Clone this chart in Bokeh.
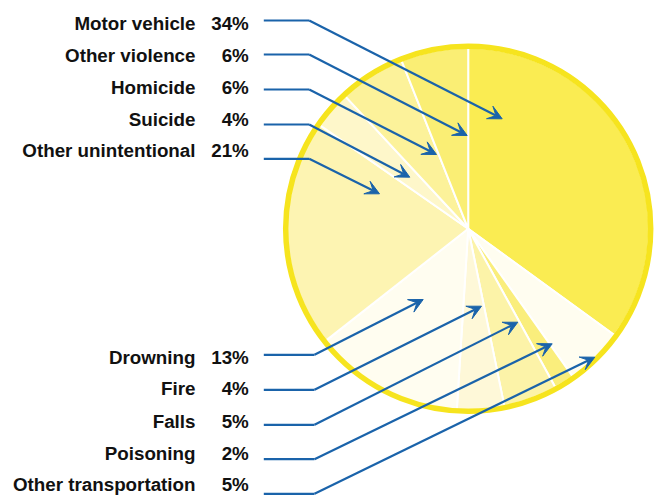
import math
from bokeh.plotting import figure
from bokeh.models import ColumnDataSource, Range1d, Arrow, VeeHead
from bokeh.core.properties import value
from bokeh.embed import file_html
from bokeh.resources import INLINE

# ---- data (pie order: clockwise from 12 o'clock) ----
categories = ["Motor vehicle", "Other transportation", "Poisoning", "Falls", "Fire",
              "Drowning", "Other unintentional", "Suicide", "Homicide", "Other violence"]
shares = [35.0, 5.2, 1.8, 4.8, 4.2, 13.4, 20.3, 3.4, 5.9, 6.0]
pct_labels = ["34%", "5%", "2%", "5%", "4%", "13%", "21%", "4%", "6%", "6%"]

# label list order (top group, then bottom group)
top_labels = ["Motor vehicle", "Other violence", "Homicide", "Suicide", "Other unintentional"]
bottom_labels = ["Drowning", "Fire", "Falls", "Poisoning", "Other transportation"]

# ---- styles / layout (image pixel coords, y down) ----
colors = {"Motor vehicle": "#FAEC52", "Other transportation": "#FFFDF0", "Poisoning": "#FAEE7C",
          "Falls": "#FCF3A8", "Fire": "#FEF8D8", "Drowning": "#FFFDF0",
          "Other unintentional": "#FDF4B2", "Suicide": "#FEF7CA", "Homicide": "#FCF29A",
          "Other violence": "#FAEE74"}
BLUE = "#1A63AA"
W, H = 654, 498


def Y(img_y):
    return H - img_y


cx, cy = 467.7, Y(228.3)
R = 181

TEXT_SHIFT = -7.5
top_line_y = [20, 54, 89, 124, 158.3]
top_text_y = [30, 62.5, 94, 126, 157.5]
top_tips = [(501.7, 118.3), (466.7, 135), (436, 154), (409.3, 176.7), (379, 193.3)]
top_bend_x = 308.7

bot_line_y = [354.3, 389.3, 424.3, 458.7, 493.3]
bot_text_y = [364.3, 395.7, 428.3, 460, 491.7]
bot_tips = [(422.7, 299), (481, 305.7), (517.3, 321.7), (551.7, 343.3), (594.3, 356.7)]
bot_bend_x = 314
line_start_x = 263.3
name_x = 195
pct_x = 248.3

p = figure(width=W, height=H, output_backend="svg", toolbar_location=None,
           x_range=Range1d(0, W), y_range=Range1d(0, H), min_border=0)
p.axis.visible = False
p.grid.visible = False
p.outline_line_color = None
p.background_fill_color = "white"
p.border_fill_color = "white"

# ---- pie ----
starts, ends = [], []
cum = 0.0
total = sum(shares)
for s in shares:
    starts.append(math.pi / 2 - 2 * math.pi * cum / total)
    cum += s
    ends.append(math.pi / 2 - 2 * math.pi * cum / total)

src = ColumnDataSource(dict(cat=categories, start=starts, end=ends,
                            color=[colors[c] for c in categories]))
p.wedge(x=cx, y=cy, radius=R, start_angle="start", end_angle="end", direction="clock",
        fill_color="color", line_color="white", line_width=2, source=src)
p.circle(x=[cx], y=[cy], radius=R + 1.5, fill_color=None, line_color="#F6E41E", line_width=5.5)

# ---- labels & arrows ----
pct_of = dict(zip(categories, pct_labels))


def add_group(labels, line_ys, text_ys, tips, bend_x):
    names, pcts, ty = [], [], []
    for lab, ly, tyy, tip in zip(labels, line_ys, text_ys, tips):
        names.append(lab)
        pcts.append(pct_of[lab])
        ty.append(Y(tyy + TEXT_SHIFT))
        p.segment(x0=[line_start_x], y0=[Y(ly)], x1=[bend_x], y1=[Y(ly)],
                  line_color=BLUE, line_width=2.2)
        p.add_layout(Arrow(end=VeeHead(size=14, fill_color=BLUE, line_color=BLUE, line_width=1),
                           x_start=bend_x, y_start=Y(ly), x_end=tip[0], y_end=Y(tip[1]),
                           line_color=BLUE, line_width=2.2))
    p.text(x=[name_x] * len(names), y=ty, text=names, text_align="right",
           text_baseline="alphabetic", text_font=value("Liberation Sans"),
           text_font_style="bold", text_font_size="18.8px", text_color="#111111")
    p.text(x=[pct_x] * len(pcts), y=ty, text=pcts, text_align="right",
           text_baseline="alphabetic", text_font=value("Liberation Sans"),
           text_font_style="bold", text_font_size="18.8px", text_color="#111111")


add_group(top_labels, top_line_y, top_text_y, top_tips, top_bend_x)
add_group(bottom_labels, bot_line_y, bot_text_y, bot_tips, bot_bend_x)

open("out.html", "w").write(file_html(p, INLINE))
